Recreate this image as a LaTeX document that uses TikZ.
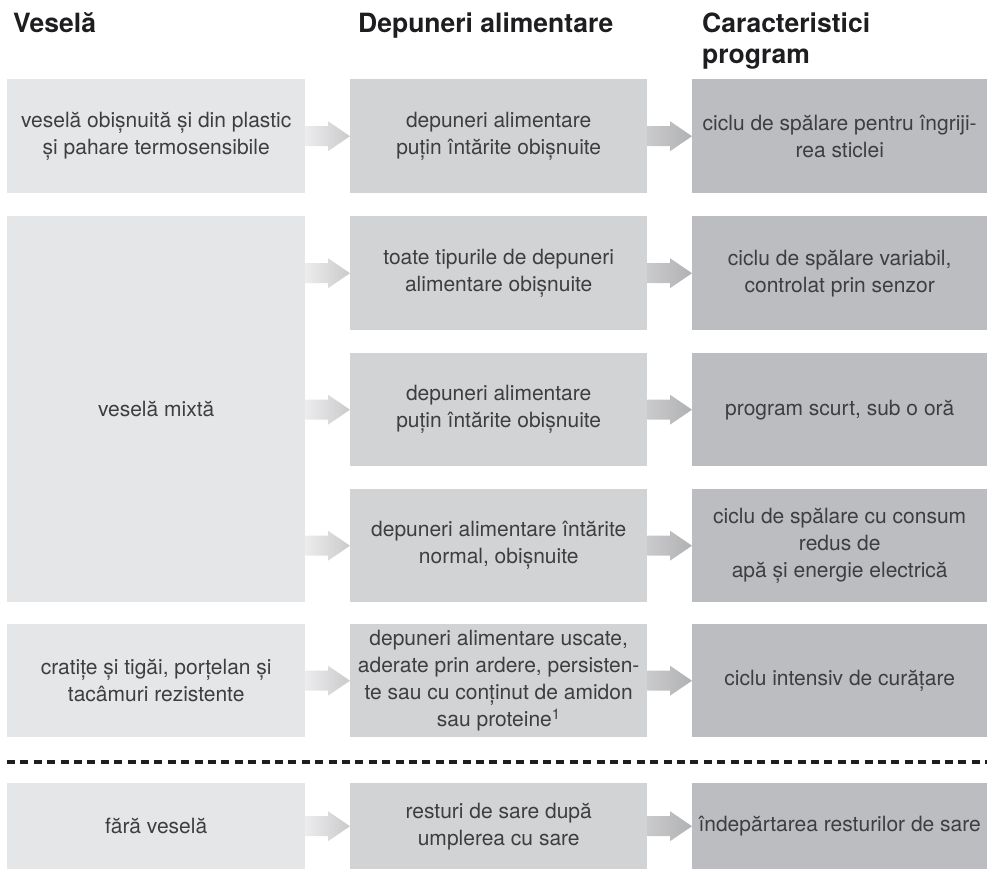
\documentclass[tikz,border=0pt]{standalone}
\usepackage{fontspec}
\setmainfont{TeX Gyre Heros}
\usepackage{xcolor}
\usetikzlibrary{calc}

\definecolor{boxA}{RGB}{229,230,232}
\definecolor{boxB}{RGB}{210,211,213}
\definecolor{boxC}{RGB}{188,189,192}
\definecolor{arrA}{RGB}{236,236,237}
\definecolor{arrB}{RGB}{202,202,204}
\definecolor{arrC}{RGB}{176,177,179}
\definecolor{txt}{RGB}{62,62,64}
\definecolor{head}{RGB}{30,30,32}

% block arrow from box #1 into box #2, shaded #3 -> #4
\newcommand{\flowarrow}[4]{%
  \coordinate (fa) at (#1.east |- #2.west);
  \shade[left color=#3, right color=#4]
    ($(fa)+(0,-10)$) -- ($(#2.west)+(-22,-10)$) -- ($(#2.west)+(-22,-15)$) -- (#2.west)
    -- ($(#2.west)+(-22,15)$) -- ($(#2.west)+(-22,10)$) -- ($(fa)+(0,10)$) -- cycle;
}

\begin{document}
\begin{tikzpicture}[x=1pt, y=-1pt,
    cell/.style={inner sep=0pt, anchor=north west, align=center, text=txt, font=\fontsize{21}{27}\selectfont},
    colA/.style={cell, fill=boxA, minimum width=298pt},
    colB/.style={cell, fill=boxB, minimum width=297pt},
    colC/.style={cell, fill=boxC, minimum width=295pt},
    header/.style={inner sep=0pt, anchor=base west, align=left, text=head, font=\bfseries\fontsize{26.5}{31}\selectfont},
    dashline/.style={draw=head, line width=3.2pt, dash pattern=on 8pt off 5.4pt}]
  \useasboundingbox (0,0) rectangle (987,869);

  % Headers (base = last line)
  \node[header] (h1) at (13,33) {Veselă};
  \node[header] (h2) at (358,33) {Depuneri alimentare};
  \node[header] (h3) at (702,64) {Caracteristici\\program};

  % Row 1
  \node[colA, minimum height=114pt] (v1) at (7,79) {veselă obișnuită și din plastic\\și pahare termosensibile};
  \node[colB, minimum height=114pt] (d1) at (350,79) {depuneri alimentare\\puțin întărite obișnuite};
  \node[colC, minimum height=114pt] (c1) at (692,79) {ciclu de spălare pentru îngriji-\\rea sticlei};

  % Mixed dishes
  \node[colA, minimum height=386pt] (v2) at (7,216) {veselă mixtă};
  \node[colB, minimum height=114pt] (d2) at (350,216) {toate tipurile de depuneri\\alimentare obișnuite};
  \node[colC, minimum height=114pt] (c2) at (692,216) {ciclu de spălare variabil,\\controlat prin senzor};
  \node[colB, minimum height=113pt] (d3) at (350,353) {depuneri alimentare\\puțin întărite obișnuite};
  \node[colC, minimum height=113pt] (c3) at (692,353) {program scurt, sub o oră};
  \node[colB, minimum height=113pt] (d4) at (350,489) {depuneri alimentare întărite\\normal, obișnuite};
  \node[colC, minimum height=113pt] (c4) at (692,489) {ciclu de spălare cu consum\\redus de\\apă și energie electrică};

  % Pots and pans
  \node[colA, minimum height=113pt] (v5) at (7,624) {cratițe și tigăi, porțelan și\\tacâmuri rezistente};
  \node[colB, minimum height=113pt] (d5) at (350,624) {depuneri alimentare uscate,\\aderate prin ardere, persisten-\\te sau cu conținut de amidon\\sau proteine\textsuperscript{1}};
  \node[colC, minimum height=113pt] (c5) at (692,624) {ciclu intensiv de curățare};

  % Separator
  \coordinate (sl) at (7,762);
  \coordinate (sr) at (987,762);
  \draw[dashline] (sl) -- (sr);

  % No dishes
  \node[colA, minimum height=86pt] (v6) at (7,783) {fără veselă};
  \node[colB, minimum height=86pt] (d6) at (350,783) {resturi de sare după\\umplerea cu sare};
  \node[colC, minimum height=86pt] (c6) at (692,783) {îndepărtarea resturilor de sare};

  % Arrows
  \flowarrow{v1}{d1}{arrA}{arrB}
  \flowarrow{v2}{d2}{arrA}{arrB}
  \flowarrow{v2}{d3}{arrA}{arrB}
  \flowarrow{v2}{d4}{arrA}{arrB}
  \flowarrow{v5}{d5}{arrA}{arrB}
  \flowarrow{v6}{d6}{arrA}{arrB}
  \flowarrow{d1}{c1}{arrB}{arrC}
  \flowarrow{d2}{c2}{arrB}{arrC}
  \flowarrow{d3}{c3}{arrB}{arrC}
  \flowarrow{d4}{c4}{arrB}{arrC}
  \flowarrow{d5}{c5}{arrB}{arrC}
  \flowarrow{d6}{c6}{arrB}{arrC}
\end{tikzpicture}
\end{document}
